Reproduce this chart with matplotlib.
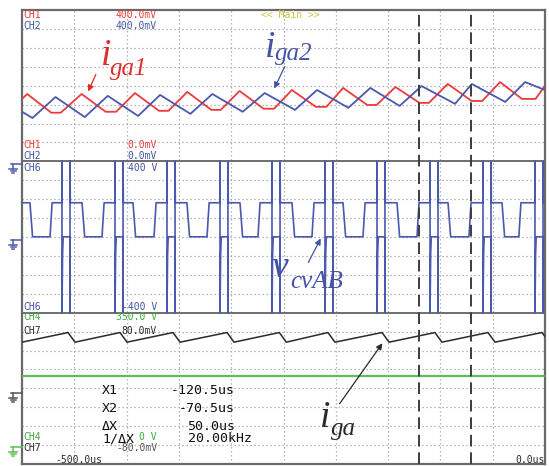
import matplotlib
matplotlib.use("Agg")
import matplotlib.pyplot as plt
from matplotlib.lines import Line2D
from matplotlib.patches import FancyArrowPatch

# ----------------- DATOS (tiempo en us, vertical en divisiones) -----------------
# CH1 / CH2 (i_ga1 rojo, i_ga2 azul), panel superior
red_t = [-500, -495, -472, -463, -443, -420, -410, -392, -369, -360, -342, -319, -310, -292,
         -269, -259, -242, -219, -209, -193, -170, -161, -143, -120, -111, -93, -70, -60,
         -43, -22, -9, 0]
red_y = [19.30, 19.56, 18.57, 18.57, 19.56, 18.62, 18.62, 19.61, 18.67, 18.67, 19.67, 18.72,
         18.72, 19.72, 18.78, 18.78, 19.77, 18.88, 18.88, 19.88, 18.98, 18.98, 19.93, 19.09,
         19.09, 20.09, 19.19, 19.19, 20.19, 19.30, 19.30, 20.0]
blue_t = [-500, -490, -468, -440, -418, -389, -368, -339, -318, -289, -268, -239, -218, -188,
          -167, -139, -118, -86, -70, -38, -19, 0]
blue_y = [18.62, 18.29, 19.40, 18.34, 19.46, 18.40, 19.51, 18.51, 19.56, 18.62, 19.61, 18.72,
          19.77, 18.83, 19.88, 18.93, 19.98, 19.04, 20.09, 19.14, 20.19, 19.77]

# CH6 (v_cvAB), panel central
cv_drop = [-492.4, -442.6, -393.9, -342.3, -291.6, -241.9, -193.1, -141.5, -92.7, -41.1]
cv_rise = [-473.2, -423.5, -373.8, -323.1, -274.4, -222.8, -174.0, -122.4, -72.7, -25.0]
cv_spike1 = [-461.8, -411.1, -361.4, -310.7, -261.0, -210.3, -160.6, -109.9, -59.3, -9.6]
cv_spike2 = [-454.1, -403.4, -353.7, -303.1, -253.3, -202.7, -153.0, -102.3, -51.6, -1.9]
cv_high = 13.81
cv_low = 12.01

# CH7 (i_ga) y CH4, panel inferior
saw_peak_t = [-456.0, -406.3, -355.6, -304.0, -254.0, -207.5, -155.8, -105.2, -54.5, -2.9]
saw_trough_t = [-500.0, -449.3, -399.6, -348.9, -297.3, -247.3, -200.8, -149.1, -98.5, -47.8]
saw_peak_y = 6.95
saw_trough_y = 6.44
ch4_level = 4.67

cursor_x1 = -120.5
cursor_x2 = -70.5

# ----------------- COLORES -----------------
ROJO = "#ec3b3b"
AZUL = "#4a58ae"
AZUL_TXT = "#4453a8"
VERDE = "#5cbf5c"
VERDE_TXT = "#3fab3f"
NEGRO = "#2a2a2a"
AMARILLO = "#c9c64a"
W, H = 549, 466

fig = plt.figure(figsize=(W / 100, H / 100), dpi=100)
ax = fig.add_axes([22 / W, 2 / H, 523 / W, 454 / H])
ax.set_xlim(-500, 0)
ax.set_ylim(0, 24)
ax.set_xticks([])
ax.set_yticks([])
for s in ax.spines.values():
    s.set_color("#6a6a6a")
    s.set_linewidth(1.6)

# rejilla punteada
for x in range(-450, 0, 50):
    ax.axvline(x, color="#a0a0a0", lw=0.9, ls=(0, (1, 2.2)), zorder=1)
for y in range(1, 24):
    if y in (8, 16):
        ax.axhline(y, color="#6e6e6e", lw=1.4, zorder=1)
    else:
        ax.axhline(y, color="#a0a0a0", lw=0.9, ls=(0, (1, 2.2)), zorder=1)

# ----------------- TRAZAS -----------------
ax.plot(red_t, red_y, color=ROJO, lw=1.3, zorder=3)
ax.plot(blue_t, blue_y, color=AZUL, lw=1.3, zorder=3)

cv_t = [-500]
cv_y = [cv_high]
for d, r, s1, s2 in zip(cv_drop, cv_rise, cv_spike1, cv_spike2):
    cv_t += [d, d + 2.5, r, r + 2, s1, s1, s1, s1 + 0.6, s1 + 1.2, s2, s2, s2, s2 + 0.3]
    cv_y += [cv_high, cv_low, cv_low, cv_high, cv_high, 16, 8, cv_low - 0.9, cv_low,
             cv_low, 8, 16, cv_high]
cv_t.append(0)
cv_y.append(cv_high)
ax.plot(cv_t, cv_y, color=AZUL, lw=1.2, zorder=3)

saw_t, saw_y = [], []
for tr, pk in zip(saw_trough_t, saw_peak_t):
    saw_t += [tr, pk]
    saw_y += [saw_trough_y, saw_peak_y]
saw_t.append(0)
saw_y.append(saw_trough_y + 0.3)
ax.plot(saw_t, saw_y, color=NEGRO, lw=1.1, zorder=3)

ax.axhline(ch4_level, color=VERDE, lw=1.6, zorder=3)

for cx in (cursor_x1, cursor_x2):
    ax.axvline(cx, color="#3c3c3c", lw=1.4, ls=(0, (6, 3)), zorder=4)


# ----------------- TEXTOS DEL OSCILOSCOPIO -----------------
def lab(px, py, s, c, size=7, ha="left"):
    fig.text(px / W, 1 - py / H, s, color=c, fontsize=size, family="DejaVu Sans Mono",
             ha=ha, va="center", zorder=6)


lab(23, 15.5, "CH1", ROJO)
lab(157, 15.5, "400.0mV", ROJO, ha="right")
lab(23, 26, "CH2", AZUL_TXT)
lab(157, 26, "400.0mV", AZUL_TXT, ha="right")
lab(290, 15.5, "<< Main >>", AMARILLO, ha="center")
lab(23, 145.5, "CH1", ROJO)
lab(157, 145.5, "0.0mV", ROJO, ha="right")
lab(23, 156, "CH2", AZUL_TXT)
lab(157, 156, "0.0mV", AZUL_TXT, ha="right")
lab(23, 168, "CH6", AZUL_TXT)
lab(157, 168, "400 V", AZUL_TXT, ha="right")
lab(23, 307, "CH6", AZUL_TXT)
lab(157, 307, "-400 V", AZUL_TXT, ha="right")
lab(23, 317, "CH4", VERDE_TXT)
lab(157, 317, "350.0 V", VERDE_TXT, ha="right")
lab(23, 331, "CH7", NEGRO)
lab(157, 331, "80.0mV", NEGRO, ha="right")
lab(23, 437, "CH4", VERDE_TXT)
lab(157, 437, "0 V", VERDE_TXT, ha="right")
lab(23, 448, "CH7", NEGRO)
lab(157, 448, "-80.0mV", "#555555", ha="right")
lab(55, 460, "-500.0us", NEGRO)
lab(545, 460, "0.0us", NEGRO, ha="right")

lab(102, 390, "X1", "#111111", size=9.5)
lab(235, 390, "-120.5us", "#111111", size=9.5, ha="right")
lab(102, 408, "X2", "#111111", size=9.5)
lab(235, 408, "-70.5us", "#111111", size=9.5, ha="right")
lab(102, 426, "ΔX", "#111111", size=9.5)
lab(235, 426, "50.0us", "#111111", size=9.5, ha="right")
lab(102, 439, "1/ΔX", "#111111", size=9.5)
lab(252, 439, "20.00kHz", "#111111", size=9.5, ha="right")


# simbolos de tierra a la izquierda
def tierra(py, c):
    def L(xs, ys):
        fig.add_artist(Line2D([x / W for x in xs], [1 - y / H for y in ys],
                              color=c, lw=1.1, transform=fig.transFigure))
    L([11, 22], [py, py])
    L([13, 13], [py, py + 5])
    L([9, 17], [py + 5, py + 5])
    L([10.5, 15.5], [py + 7, py + 7])
    L([12, 14], [py + 9, py + 9])


tierra(164, AZUL)
tierra(240, AZUL)
tierra(393, "#555555")
tierra(447, VERDE)


# ----------------- ANOTACIONES -----------------
def rotulo(px, py, base, sub, c, dx, dy):
    fig.text(px / W, 1 - py / H, base, color=c, fontsize=27, family="Liberation Serif",
             style="italic", ha="left", va="baseline")
    fig.text((px + dx) / W, 1 - (py + dy) / H, sub, color=c, fontsize=18,
             family="Liberation Serif", style="italic", ha="left", va="baseline")


def flecha(x0, y0, x1, y1, c):
    fig.add_artist(FancyArrowPatch(
        (x0 / W, 1 - y0 / H), (x1 / W, 1 - y1 / H), transform=fig.transFigure,
        arrowstyle="-|>", mutation_scale=9, color=c, lw=0.9))


rotulo(101, 65, "i", "ga1", "#e02c2c", 9, 10)
rotulo(265, 57, "i", "ga2", AZUL_TXT, 10, 3)
rotulo(271, 277, "v", "cvAB", AZUL_TXT, 19, 11)
rotulo(320, 427, "i", "ga", NEGRO, 11, 8)

flecha(97, 72, 87, 94, "#e02c2c")
flecha(286, 64, 273, 91, AZUL_TXT)
flecha(307, 265, 322, 236, AZUL_TXT)
flecha(338, 406, 384, 341, NEGRO)

fig.savefig("out.png", dpi=100)
